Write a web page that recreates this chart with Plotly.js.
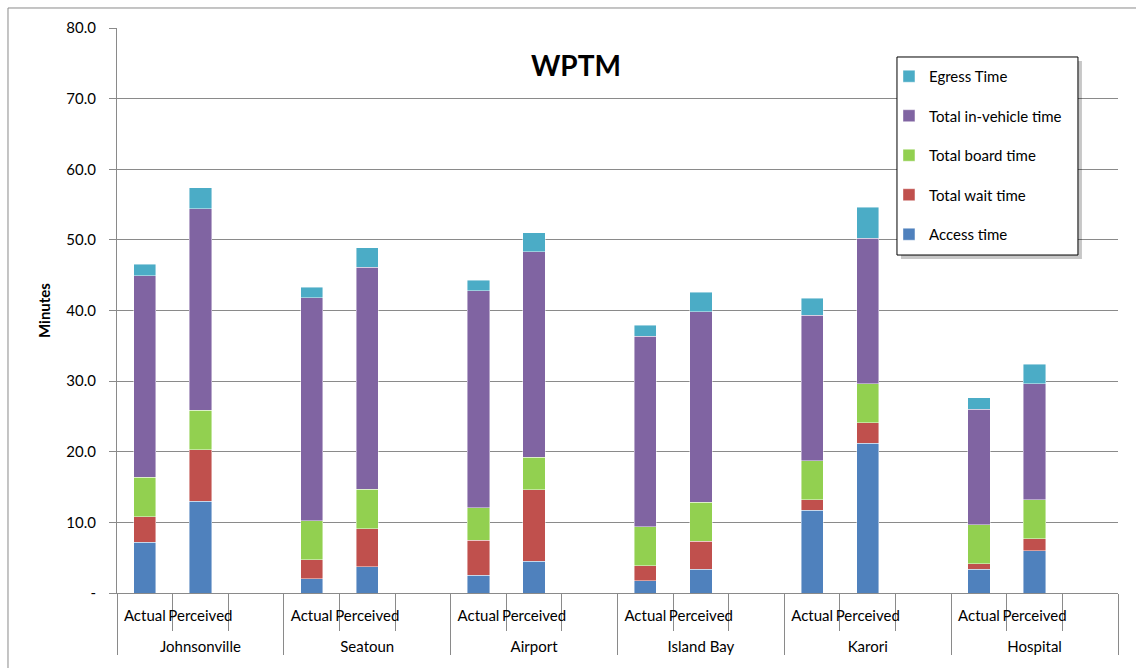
<!DOCTYPE html>
<html>
<head>
<meta charset="utf-8">
<script src="https://cdn.plot.ly/plotly-3.0.1.min.js"></script>
<style>
  html, body { margin: 0; padding: 0; background: #fff; }
  #chart { width: 1136px; height: 668px; }
</style>
</head>
<body>
<div id="chart"></div>
<script>
// Locations (outer category level) and bar kinds (inner level)
const locations = ["Johnsonville", "Seatoun", "Airport", "Island Bay", "Karori", "Hospital"];
const kinds = ["Actual", "Perceived"];
const blankKind = " ";

// Values per location, order: [Actual, Perceived]
const accessTime    = [[7.2, 13.0], [2.0, 3.7], [2.5, 4.5], [1.75, 3.35], [11.75, 21.2], [3.35, 5.95]];
const waitTime      = [[3.6, 7.3],  [2.7, 5.4], [5.0, 10.1], [2.1, 4.0],  [1.45, 2.9],  [0.8, 1.7]];
const boardTime     = [[5.6, 5.6],  [5.5, 5.6], [4.6, 4.6], [5.5, 5.5],  [5.5, 5.5],   [5.5, 5.55]];
const inVehicleTime = [[28.5, 28.5],[31.6, 31.4],[30.7, 29.1],[27.0, 27.0],[20.6, 20.6],[16.4, 16.4]];
const egressTime    = [[1.65, 3.0], [1.5, 2.8], [1.5, 2.7], [1.55, 2.75],[2.45, 4.4],  [1.6, 2.8]];

const seriesNames  = ["Access time", "Total wait time", "Total board time", "Total in-vehicle time", "Egress Time"];
const seriesValues = [accessTime, waitTime, boardTime, inVehicleTime, egressTime];
const seriesColors = ["#4F81BD", "#C0504D", "#92D050", "#8064A2", "#4BACC6"];

// Build multicategory x (each location has Actual, Perceived and an empty slot).
// The leading <br> on the outer labels only moves that row lower, as in the reference.
const xOuter = [], xInner = [];
locations.forEach(loc => {
  const outer = "<br>" + loc;
  kinds.forEach(k => { xOuter.push(outer); xInner.push(k); });
  xOuter.push(outer); xInner.push(blankKind);
});

const traces = seriesNames.map((name, s) => {
  const y = [];
  seriesValues[s].forEach(pair => { y.push(pair[0], pair[1], null); });
  return {
    type: "bar",
    name: name,
    x: [xOuter, xInner],
    y: y,
    legendgroup: "g" + s,
    legendrank: seriesNames.length - s,
    marker: { color: seriesColors[s], line: { width: 0.8, color: "rgba(255,255,255,0.55)" } },
    hoverinfo: "name+y"
  };
});

const FONT = "Lato, 'Open Sans', sans-serif";
const yTicks = [0, 10, 20, 30, 40, 50, 60, 70, 80];
const yTickText = yTicks.map(v => v === 0 ? "-" : v.toFixed(1));

const layout = {
  width: 1136, height: 668,
  margin: { l: 117, r: 18, t: 28, b: 75 },
  paper_bgcolor: "#ffffff", plot_bgcolor: "#ffffff",
  font: { family: FONT, size: 15, color: "#000" },
  barmode: "stack",
  bargap: 0.6,
  showlegend: true,
  title: {
    text: "<b>WPTM</b>",
    font: { family: FONT, size: 28, color: "#000" },
    xref: "paper", x: 0.4585, xanchor: "center",
    yref: "container", y: 0.901, yanchor: "middle"
  },
  xaxis: {
    type: "multicategory",
    tickangle: 0,
    showline: true, linecolor: "#8a8a8a", linewidth: 1,
    ticks: "outside", tickson: "boundaries", ticklen: 37, tickcolor: "#8a8a8a",
    ticklabelstandoff: 9,
    showdividers: true, dividercolor: "#8a8a8a", dividerwidth: 1,
    showgrid: false,
    tickfont: { family: FONT, size: 15, color: "#000" }
  },
  yaxis: {
    range: [0, 80],
    tickvals: yTicks, ticktext: yTickText,
    ticks: "outside", ticklen: 7, tickcolor: "#8a8a8a",
    ticklabelstandoff: 10,
    showline: true, linecolor: "#8a8a8a", linewidth: 1,
    showgrid: true, gridcolor: "#8a8a8a", gridwidth: 1,
    zeroline: false,
    tickfont: { family: FONT, size: 15, color: "#000" },
    title: { text: "<b>Minutes</b>", font: { family: FONT, size: 15, color: "#000" }, standoff: 12 }
  },
  legend: {
    traceorder: "grouped",
    tracegroupgap: 17,
    x: 0.7712, xanchor: "left",
    y: 0.9434, yanchor: "top",
    bgcolor: "rgba(0,0,0,0)", borderwidth: 0,
    font: { family: FONT, size: 15, color: "#000" }
  },
  shapes: [
    // legend drop shadow
    { type: "rect", xref: "paper", yref: "paper", x0: 0.7832, x1: 0.964, y0: 0.5912, y1: 0.9416,
      fillcolor: "rgba(0,0,0,0.22)", line: { width: 0 }, layer: "above" },
    // legend box
    { type: "rect", xref: "paper", yref: "paper", x0: 0.7792, x1: 0.960, y0: 0.5982, y1: 0.9487,
      fillcolor: "#ffffff", line: { color: "#000", width: 1 }, layer: "above" },
    // chart area border (left and top edges)
    { type: "line", xref: "paper", yref: "paper", x0: -0.1089, x1: -0.1089, y0: 1.0354, y1: -0.2,
      line: { color: "#8a8a8a", width: 1 } },
    { type: "line", xref: "paper", yref: "paper", x0: -0.1089, x1: 1.05, y0: 1.0354, y1: 1.0354,
      line: { color: "#8a8a8a", width: 1 } }
  ]
};

Plotly.newPlot("chart", traces, layout, { displayModeBar: false, staticPlot: true });
</script>
</body>
</html>
